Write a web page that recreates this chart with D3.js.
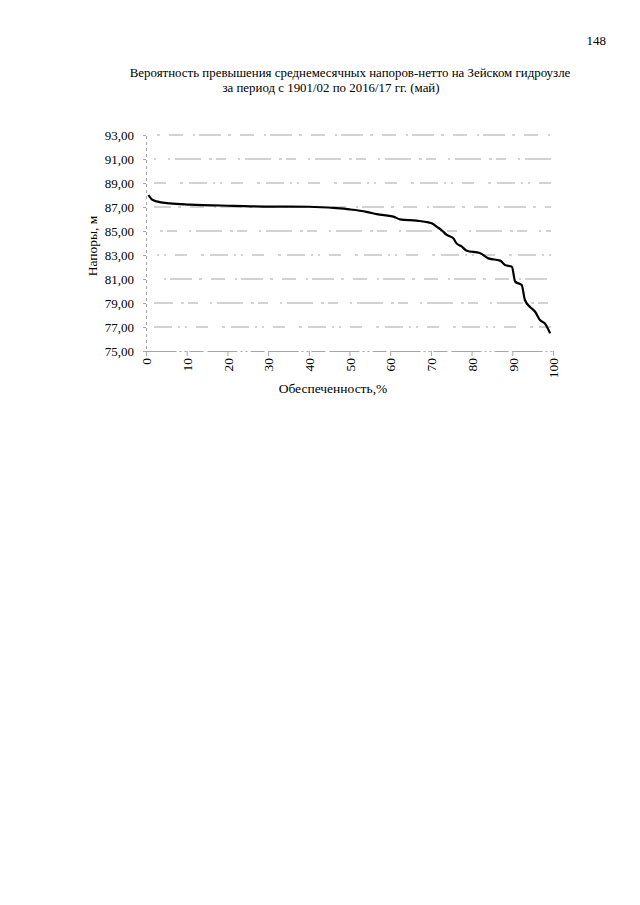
<!DOCTYPE html>
<html><head><meta charset="utf-8">
<script src="https://cdn.jsdelivr.net/npm/d3@7"></script>
<style>
html,body{margin:0;padding:0;background:#fff;}
svg{display:block;}
text{font-family:"Liberation Serif","DejaVu Serif",serif;fill:#000;}
</style></head>
<body>
<script>
const titleLines = ["Вероятность превышения среднемесячных напоров-нетто на Зейском гидроузле",
                    "за период с 1901/02 по 2016/17 гг. (май)"];
const pageNumber = "148";
const yTitle = "Напоры, м";
const xTitle = "Обеспеченность,%";
const xTicks = [0,10,20,30,40,50,60,70,80,90,100];
const yTicks = [75,77,79,81,83,85,87,89,91,93];
// probability of exceedance, %
const prob = [0.6,1.4,2.6,5.9,10.8,21.5,30.5,40,46.8,50,54.2,56.7,60.8,62.4,66.5,69.4,
              70.2,71.4,72.6,73.9,75.5,76.3,77.6,78.8,82,84.1,87,88.2,89.9,90.7,92.3,93.1,94.3,95.6,96.8,98.0,99.3];
// net head, m
const head = [88.0,87.64,87.47,87.3,87.2,87.1,87.03,87.02,86.9,86.8,86.6,86.4,86.2,85.97,85.86,85.72,
              85.64,85.36,85.08,84.67,84.39,83.97,83.7,83.36,83.17,82.72,82.53,82.17,82.03,80.78,80.5,79.25,78.69,78.27,77.58,77.3,76.47];

const W=640,H=905;
const svg=d3.select("body").append("svg").attr("width",W).attr("height",H);

svg.append("text").attr("x",606).attr("y",45).attr("text-anchor","end").attr("font-size",13).text(pageNumber);
svg.append("text").attr("x",350).attr("y",77).attr("text-anchor","middle").attr("font-size",12.9).text(titleLines[0]);
svg.append("text").attr("x",331).attr("y",92).attr("text-anchor","middle").attr("font-size",12.9).text(titleLines[1]);

const x=d3.scaleLinear().domain([0,100]).range([146,553]);
const y=d3.scaleLinear().domain([75,93]).range([351,135]);

const gridCol="#a6a6a6";
// gridlines
svg.append("g").selectAll("line").data(yTicks.filter(d=>d>75)).join("line")
  .attr("x1",x(0)+8).attr("x2",x(100)-2).attr("y1",d=>y(d)).attr("y2",d=>y(d))
  .attr("stroke",gridCol).attr("stroke-width",1)
  .attr("stroke-dasharray",(d,i)=>["18,6,2,5,2,9,12,14,3,6","26,8,3,4,10,12,2,5","14,10,2,4,22,7,3,9"][i%3])
  .attr("stroke-dashoffset",(d,i)=>i*7);

// y axis
const ya=svg.append("g").attr("transform",`translate(${x(0)},0)`)
  .call(d3.axisLeft(y).tickValues(yTicks).tickSize(3).tickPadding(9).tickFormat(d=>d3.format(".2f")(d).replace(".",",")));
ya.select(".domain").attr("stroke",gridCol).attr("stroke-dasharray","3,3");
ya.selectAll(".tick line").attr("stroke",gridCol);
ya.selectAll(".tick text").attr("font-size",13).attr("font-family","Liberation Serif, serif").attr("fill","#000");

// x axis
const xa=svg.append("g").attr("transform",`translate(0,${y(75)})`)
  .call(d3.axisBottom(x).tickValues(xTicks).tickSize(5).tickSizeOuter(0).tickFormat(d3.format("d")));
xa.select(".domain").attr("stroke",gridCol).attr("stroke-dasharray","30,3,2,3,2,3,14,4");
xa.selectAll(".tick line").attr("stroke",gridCol);
xa.selectAll(".tick text").attr("font-size",13.5).attr("font-family","Liberation Serif, serif").attr("fill","#000")
  .attr("transform","rotate(-90)").attr("text-anchor","end").attr("x",-7).attr("y",0).attr("dy","0.35em");

// curve
const pts=prob.map((p,i)=>[p,head[i]]);
svg.append("path").datum(pts)
  .attr("d",d3.line().x(d=>x(d[0])).y(d=>y(d[1])).curve(d3.curveMonotoneX))
  .attr("fill","none").attr("stroke","#000").attr("stroke-width",2.2);

// axis titles
svg.append("text").attr("transform",`translate(97,246) rotate(-90)`).attr("text-anchor","middle").attr("font-size",13.5).text(yTitle);
svg.append("text").attr("x",333).attr("y",393).attr("text-anchor","middle").attr("font-size",13.5).text(xTitle);
</script>
</body></html>
